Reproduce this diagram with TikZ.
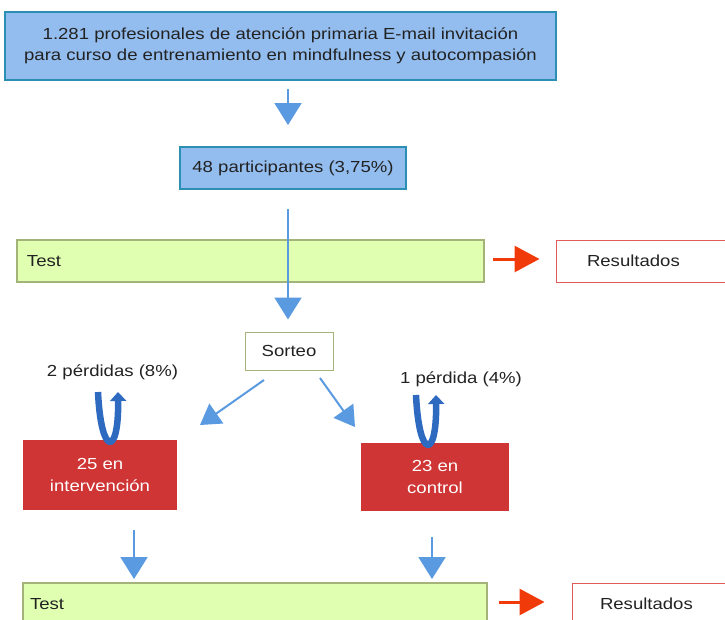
\documentclass[tikz,border=0pt]{standalone}
\usepackage{fontspec}
\setmainfont[FakeStretch=1.16]{Liberation Sans}
\usetikzlibrary{arrows.meta}
\definecolor{boxblue}{HTML}{93BDEF}
\definecolor{boxedge}{HTML}{2A8FB2}
\definecolor{testfill}{HTML}{E0FFB0}
\definecolor{testedge}{HTML}{A3B37A}
\definecolor{groupred}{HTML}{D03535}
\definecolor{resedge}{HTML}{E05A5A}
\definecolor{arrowblue}{HTML}{5A9AE0}
\definecolor{arrowred}{HTML}{F03A0A}
\definecolor{loopblue}{HTML}{2E6BC0}
\definecolor{inktext}{HTML}{222222}
\tikzset{
  every node/.style={font=\fontsize{16}{20.5}\selectfont, text=inktext},
  bluebox/.style={draw=boxedge, line width=2pt, fill=boxblue, align=center, inner sep=0pt},
  testbox/.style={draw=testedge, line width=2pt, fill=testfill, inner ysep=0pt, minimum height=42pt, align=left},
  resbox/.style={draw=resedge, line width=1pt, fill=white, inner ysep=0pt, minimum height=42pt, align=left},
  sortbox/.style={draw=testedge, line width=1pt, fill=white, inner sep=0pt, minimum width=88pt, minimum height=38pt},
  groupbox/.style={fill=groupred, text=white, align=center, inner sep=0pt, font=\fontsize{16}{22}\selectfont},
  bluearrow/.style={draw=arrowblue, line width=2pt, -{Triangle[length=22pt,width=27pt]}, arrowblue},
  slantarrow/.style={draw=arrowblue, line width=2pt, -{Triangle[length=20pt,width=24pt]}, arrowblue},
  redarrow/.style={draw=arrowred, line width=3pt, -{Triangle[length=25pt,width=26pt]}, arrowred},
  lossloop/.style={draw=loopblue, line width=6.5pt, -{Triangle[length=9pt,width=16pt]}, loopblue}
}
\begin{document}
\begin{tikzpicture}[x=1pt,y=-1pt]
  \clip (0,0) rectangle (725,619);
  \coordinate (axis) at (288,0);
  % invitation and participants
  \node[bluebox, minimum width=551pt, minimum height=68pt] (invit) at (280.5,46)
    {1.281 profesionales de atención primaria E-mail invitación\\para curso de entrenamiento en mindfulness y autocompasión};
  \node[bluebox, minimum width=226pt, minimum height=42pt] (part) at (293,168) {48 participantes (3,75\%)};
  \draw[bluearrow, shorten <=8pt, shorten >=21pt] (invit.south -| axis) -- (part.north -| axis);
  % first test
  \node[testbox, inner xsep=10pt, text width=447pt] (test1) at (250.5,261) {Test};
  \node[resbox, inner xsep=31pt, text width=152pt] (res1) at (663,261) {Resultados};
  \draw[redarrow, shorten <=8pt, shorten >=16pt] ([yshift=2pt]test1.east) -- ([yshift=2pt]res1.west);
  % randomisation
  \node[sortbox] (sorteo) at (289,351) {Sorteo};
  \draw[bluearrow, shorten <=19pt, shorten >=12pt] (part.south -| axis) -- (sorteo.north -| axis);
  \coordinate (sl) at (264,380);
  \coordinate (el) at (200,425);
  \coordinate (sr) at (320,378);
  \coordinate (er) at (355,427);
  \draw[slantarrow] (sl) -- (el);
  \draw[slantarrow] (sr) -- (er);
  % groups
  \node[groupbox, minimum width=154pt, minimum height=70pt] (interv) at (100,475) {25 en\\intervención};
  \node[groupbox, minimum width=148pt, minimum height=68pt] (ctrl) at (435,477) {23 en\\control};
  \node (lossl) at (112.5,372) {2 pérdidas (8\%)};
  \node (lossr) at (461,379) {1 pérdida (4\%)};
  \draw[lossloop] (98,392) .. controls (101,457) and (119,457) .. (118,392);
  \draw[lossloop] (416,395) .. controls (419,460) and (437,460) .. (436,395);
  % second test
  \node[testbox, inner xsep=7pt, text width=450pt] (test2) at (255,604) {Test};
  \node[resbox, inner xsep=28pt, text width=142pt] (res2) at (671,604) {Resultados};
  \coordinate (dl) at (134,530);
  \coordinate (dr) at (432,537);
  \draw[bluearrow, shorten >=3pt] (dl) -- (dl |- test2.north);
  \draw[bluearrow, shorten >=3pt] (dr) -- (dr |- test2.north);
  \draw[redarrow, shorten <=11pt, shorten >=27pt] ([yshift=2pt]test2.east) -- ([yshift=2pt]res2.west);
\end{tikzpicture}
\end{document}
